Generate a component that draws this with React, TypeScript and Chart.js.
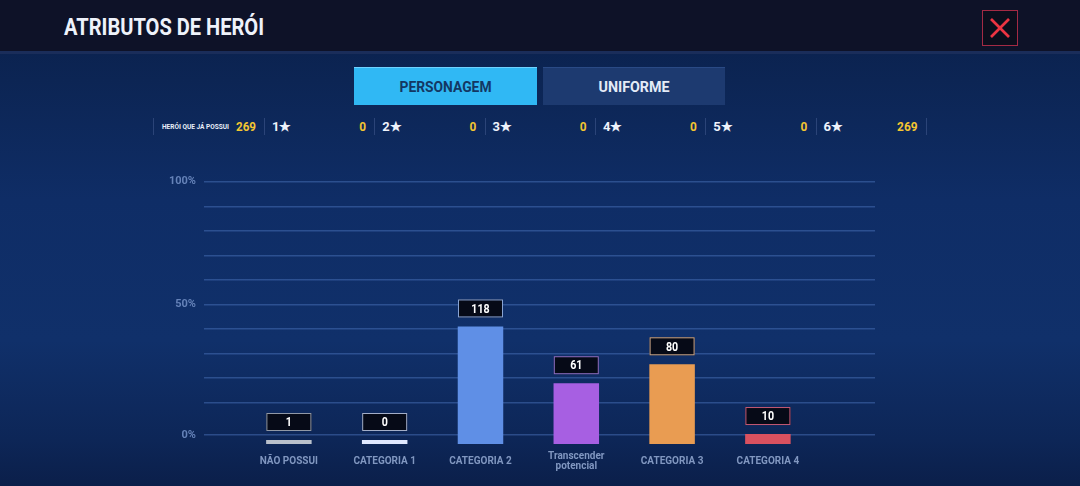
import React, { useEffect, useRef } from 'react';
import { Chart, registerables } from 'chart.js';

Chart.register(...registerables);

// ---- data ----
const categories: string[][] = [
  ['NÃO POSSUI'],
  ['CATEGORIA 1'],
  ['CATEGORIA 2'],
  ['Transcender', 'potencial'],
  ['CATEGORIA 3'],
  ['CATEGORIA 4'],
];
const heroCounts = [1, 0, 118, 61, 80, 10];
const totalHeroes = 269;
const barColors = ['#b9c0cb', '#dfe8ff', '#5f8fe6', '#a75fe2', '#e99c52', '#d9515f'];
const labelBorders = ['#9098a6', '#a3aec8', '#8aa5d6', '#9272c8', '#cfa88a', '#c65a76'];
const gridLevels = [100, 90, 80, 70, 60, 50, 40, 30, 20, 10, -3.15];
const tickLevels = [100, 50, -3.15];
const tickLabels = ['100%', '50%', '0%'];
const starLabels = ['1★', '2★', '3★', '4★', '5★', '6★'];
const starCounts = [0, 0, 0, 0, 0, 269];
const ownedLabel = 'HERÓI QUE JÁ POSSUI';
const tabs = ['PERSONAGEM', 'UNIFORME'];
const title = 'ATRIBUTOS DE HERÓI';

const FONT = 'Roboto, "Noto Sans", sans-serif';

const valueBoxPlugin = {
  id: 'valueBoxes',
  afterDatasetsDraw(chart: any) {
    const ctx = chart.ctx;
    const meta = chart.getDatasetMeta(0);
    meta.data.forEach((bar: any, i: number) => {
      const w = 45;
      const h = 18;
      const x = bar.x - w / 2;
      const top = Math.min(bar.y, bar.base) - 9 - h;
      ctx.save();
      ctx.fillStyle = '#060a17';
      ctx.fillRect(x, top, w, h);
      ctx.strokeStyle = labelBorders[i];
      ctx.lineWidth = 1;
      ctx.strokeRect(x + 0.5, top + 0.5, w - 1, h - 1);
      ctx.translate(bar.x, top + h / 2 + 1);
      ctx.scale(0.82, 1);
      ctx.fillStyle = '#ffffff';
      ctx.font = `bold 13px ${FONT}`;
      ctx.textAlign = 'center';
      ctx.textBaseline = 'middle';
      ctx.fillText(String(heroCounts[i]), 0, 0);
      ctx.restore();
    });
  },
};

function BarChart() {
  const ref = useRef<HTMLCanvasElement | null>(null);
  useEffect(() => {
    if (!ref.current) return;
    const pct = heroCounts.map((c) => (c / totalHeroes) * 100);
    const chart = new Chart(ref.current, {
      type: 'bar',
      data: {
        datasets: [
          {
            data: pct.map((v, i) => ({ x: i, y: v })),
            backgroundColor: barColors,
            borderWidth: 0,
            barPercentage: 0.475,
            categoryPercentage: 1,
            minBarLength: 4,
            xAxisID: 'x',
            yAxisID: 'y',
          },
        ],
      },
      options: {
        animation: false,
        responsive: false,
        maintainAspectRatio: false,
        layout: { padding: { left: 154, right: 205, top: 176, bottom: 0 } },
        plugins: { legend: { display: false }, tooltip: { enabled: false } },
        scales: {
          x: {
            type: 'linear',
            offset: false,
            min: -0.886,
            max: 6.118,
            grid: { display: false, drawTicks: false, offset: false },
            border: { display: false },
            afterBuildTicks: (s: any) => {
              s.ticks = categories.map((_, i) => ({ value: i }));
            },
            afterFit: (s: any) => {
              s.height = 42;
            },
            ticks: {
              callback: (v: any) => categories[v as number],
              color: '#8197c0',
              font: { family: FONT, size: 10, weight: 'bold', lineHeight: 1.0 },
              padding: 12,
              crossAlign: 'center',
              maxRotation: 0,
              autoSkip: false,
            },
          },
          y: {
            type: 'linear',
            display: false,
            min: 0,
            max: 100,
          },
          g: {
            type: 'linear',
            position: 'left',
            min: -6.82,
            max: 102.32,
            afterBuildTicks: (s: any) => {
              s.ticks = gridLevels.map((v) => ({ value: v }));
            },
            afterFit: (s: any) => {
              s.width = 50;
            },
            grid: { color: 'rgba(80,122,196,0.45)', lineWidth: 1.5, drawTicks: false },
            border: { display: false },
            ticks: {
              callback: (v: any) => {
                const k = tickLevels.indexOf(v as number);
                return k >= 0 ? tickLabels[k] : '';
              },
              color: '#6582b8',
              font: { family: FONT, size: 11, weight: 'bold' },
              padding: 8,
              autoSkip: false,
            },
          },
        },
      },
      plugins: [valueBoxPlugin],
    } as any);
    return () => chart.destroy();
  }, []);
  return (
    <canvas
      ref={ref}
      width={1080}
      height={486}
      style={{ position: 'absolute', left: 0, top: 0, width: 1080, height: 486 }}
    />
  );
}

function T(props: {
  x: number;
  y: number;
  text: string | number;
  size: number;
  color: string;
  width?: number;
  anchor?: 'start' | 'middle' | 'end';
}) {
  const { x, y, text, size, color, width, anchor } = props;
  return (
    <text
      x={x}
      y={y}
      fontFamily={FONT}
      fontWeight="bold"
      fontSize={size}
      fill={color}
      textAnchor={anchor || 'start'}
      {...(width ? { textLength: width, lengthAdjust: 'spacingAndGlyphs' } : {})}
    >
      {text}
    </text>
  );
}

export default function App() {
  const groupW = 110.3;
  return (
    <div
      style={{
        position: 'fixed',
        left: 0,
        top: 0,
        width: 1080,
        height: 486,
        overflow: 'hidden',
        fontFamily: FONT,
        background:
          'linear-gradient(180deg, #0a1f4a 0px, #0c2554 80px, #0f2d66 200px, #10306a 340px, #0d2657 440px, #0b1f4a 486px)',
      }}
    >
      {/* header */}
      <div
        style={{
          position: 'absolute',
          left: 0,
          top: 0,
          width: 1080,
          height: 51,
          background: '#0e1228',
          borderBottom: '3px solid #1a2d5a',
        }}
      />
      {/* close button */}
      <div
        style={{
          position: 'absolute',
          left: 982,
          top: 10,
          width: 34,
          height: 34,
          border: '1px solid #a32a44',
          background: '#0b0e1c',
        }}
      >
        <svg width={34} height={34} style={{ display: 'block' }}>
          <line x1={8} y1={8} x2={26} y2={26} stroke="#ec3442" strokeWidth={2.6} />
          <line x1={26} y1={8} x2={8} y2={26} stroke="#ec3442" strokeWidth={2.6} />
        </svg>
      </div>
      {/* tabs */}
      {tabs.map((t, i) => (
        <div
          key={t}
          style={{
            position: 'absolute',
            left: i === 0 ? 354 : 543,
            top: 67,
            width: i === 0 ? 183 : 182,
            height: 38,
            background: i === 0 ? '#30b8f4' : '#1d3a70',
            boxShadow: i === 0 ? 'inset 0 1px 0 #6fd2ff' : 'inset 0 1px 0 #2a4a85',
          }}
        />
      ))}
      {/* separators */}
      {[153, ...starLabels.map((_, i) => 264 + i * groupW), 926].map((x, i) => (
        <div
          key={i}
          style={{ position: 'absolute', left: x, top: 118, width: 1, height: 17, background: '#2b4478' }}
        />
      ))}
      <svg
        width={1080}
        height={486}
        style={{ position: 'absolute', left: 0, top: 0, display: 'block' }}
      >
        <T x={64} y={35} text={title} size={24} color="#eef2fb" width={200} />
        <T x={445.5} y={91.5} text={tabs[0]} size={15.5} color="#133763" width={92} anchor="middle" />
        <T x={634} y={91.5} text={tabs[1]} size={15.5} color="#e4ebf7" width={71} anchor="middle" />
        <T x={162} y={129} text={ownedLabel} size={7.5} color="#e8eef8" width={67} />
        <T x={256} y={131} text={totalHeroes} size={13} color="#f3c531" width={20} anchor="end" />
        {starLabels.map((s, i) => (
          <React.Fragment key={s}>
            <T x={272 + i * groupW} y={131} text={s} size={13} color="#eef2fb" />
            <T
              x={366 + i * groupW}
              y={131}
              text={starCounts[i]}
              size={13}
              color="#f3c531"
              anchor="end"
              width={String(starCounts[i]).length * 6.8}
            />
          </React.Fragment>
        ))}
      </svg>
      <BarChart />
    </div>
  );
}
